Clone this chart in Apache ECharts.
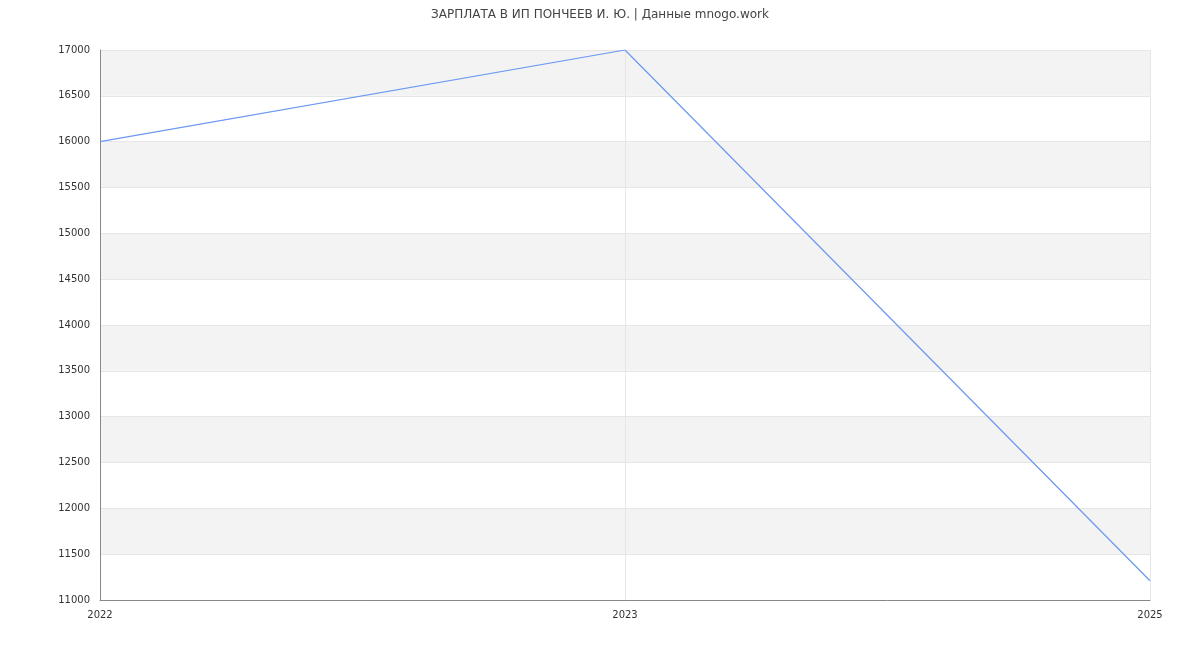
<!DOCTYPE html>
<html>
<head>
<meta charset="UTF-8">
<script src="https://cdn.jsdelivr.net/npm/echarts@6/dist/echarts.min.js"></script>
<style>
  body { margin: 0; background: #fff; }
  #chart { width: 1200px; height: 650px; }
</style>
</head>
<body>
<div id="chart"></div>
<script>
// данные графика
var years = ['2022', '2023', '2025'];
var salary = [16000, 17000, 11210];

var chart = echarts.init(document.getElementById('chart'));
chart.setOption({
    animation: false,
    title: {
        text: 'ЗАРПЛАТА В ИП ПОНЧЕЕВ И. Ю. | Данные mnogo.work',
        left: 'center',
        top: 4,
        textStyle: { fontSize: 12, fontWeight: 'normal', color: '#444', fontFamily: 'DejaVu Sans' }
    },
    grid: { left: 100, right: 50, top: 50, bottom: 50 },
    xAxis: {
        type: 'category',
        data: years,
        boundaryGap: false,
        axisLine: { lineStyle: { color: '#888' } },
        axisTick: { show: false },
        axisLabel: { color: '#333', fontSize: 10, fontFamily: 'DejaVu Sans', margin: 10 },
        splitLine: { show: true, lineStyle: { color: '#e6e6e6' } }
    },
    yAxis: {
        type: 'value',
        min: 11000,
        max: 17000,
        interval: 500,
        axisLine: { show: true, lineStyle: { color: '#888' } },
        axisTick: { show: false },
        axisLabel: { color: '#333', fontSize: 10, fontFamily: 'DejaVu Sans', margin: 10,
            formatter: function (v) { return String(v); } },
        splitLine: { lineStyle: { color: '#e6e6e6' } },
        splitArea: { show: true, areaStyle: { color: ['#ffffff', '#f3f3f3'] } }
    },
    series: [{
        type: 'line',
        data: salary,
        showSymbol: false,
        lineStyle: { color: '#6b98f2', width: 1.2 },
        itemStyle: { color: '#6b98f2' }
    }]
});
</script>
</body>
</html>
